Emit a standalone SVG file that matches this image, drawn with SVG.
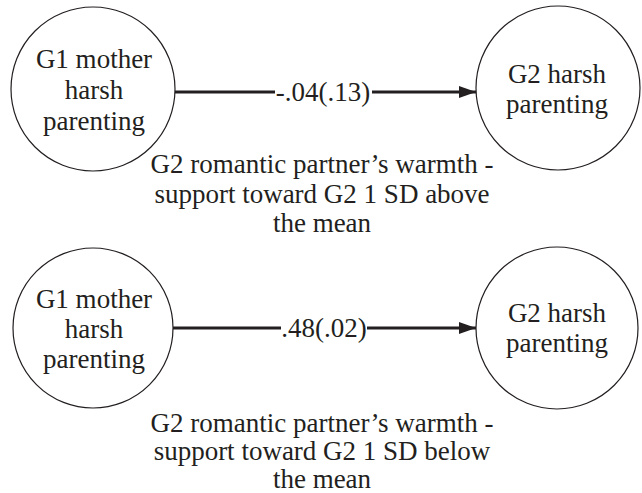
<svg xmlns="http://www.w3.org/2000/svg" width="642" height="493" viewBox="0 0 642 493">
  <style>
    .node { fill: #ffffff; stroke: #231f20; stroke-width: 1.2; }
    .lbl { font-family: 'Liberation Serif', 'Times New Roman', Times, serif; font-size: 27px; fill: #231f20; text-anchor: middle; }
    .edge { stroke: #231f20; stroke-width: 3; fill: none; }
  </style>
  <defs>
    <marker id="arrow" viewBox="0 0 17 12" refX="17" refY="6" markerWidth="17" markerHeight="12" markerUnits="userSpaceOnUse" orient="auto">
      <path d="M0,0 L17,6 L0,12 Z" fill="#231f20"/>
    </marker>
  </defs>
  <rect width="642" height="493" fill="#ffffff"/>

  <!-- upper model: warmth-support 1 SD above the mean -->
  <g id="g1-mother-top">
    <circle class="node" cx="93" cy="89" r="82"/>
    <text class="lbl" x="94" y="68">G1 mother</text>
    <text class="lbl" x="94" y="99">harsh</text>
    <text class="lbl" x="94" y="130">parenting</text>
  </g>
  <g id="g2-harsh-top">
    <circle class="node" cx="558" cy="88" r="82"/>
    <text class="lbl" x="557" y="83">G2 harsh</text>
    <text class="lbl" x="557" y="113">parenting</text>
  </g>
  <g id="moderator-top">
    <text class="lbl" x="322" y="173">G2 romantic partner’s warmth -</text>
    <text class="lbl" x="322" y="203">support toward G2 1 SD above</text>
    <text class="lbl" x="322" y="232">the mean</text>
  </g>

  <!-- lower model: warmth-support 1 SD below the mean -->
  <g id="g1-mother-bottom">
    <circle class="node" cx="93" cy="328" r="80"/>
    <text class="lbl" x="94" y="308">G1 mother</text>
    <text class="lbl" x="94" y="338">harsh</text>
    <text class="lbl" x="94" y="368">parenting</text>
  </g>
  <g id="g2-harsh-bottom">
    <circle class="node" cx="557" cy="328" r="81"/>
    <text class="lbl" x="557" y="322">G2 harsh</text>
    <text class="lbl" x="557" y="352">parenting</text>
  </g>
  <g id="moderator-bottom">
    <text class="lbl" x="322" y="432">G2 romantic partner’s warmth -</text>
    <text class="lbl" x="322" y="460">support toward G2 1 SD below</text>
    <text class="lbl" x="322" y="488">the mean</text>
  </g>

  <!-- paths with coefficient (SE) labels -->
  <g id="connectors">
    <line class="edge" x1="175" y1="92" x2="275" y2="92"/>
    <line class="edge" x1="372" y1="92" x2="476" y2="92" marker-end="url(#arrow)"/>
    <text class="lbl" x="323" y="101">-.04(.13)</text>

    <line class="edge" x1="173" y1="328" x2="281" y2="328"/>
    <line class="edge" x1="367" y1="328" x2="476" y2="328" marker-end="url(#arrow)"/>
    <text class="lbl" x="324" y="337">.48(.02)</text>
  </g>
</svg>
